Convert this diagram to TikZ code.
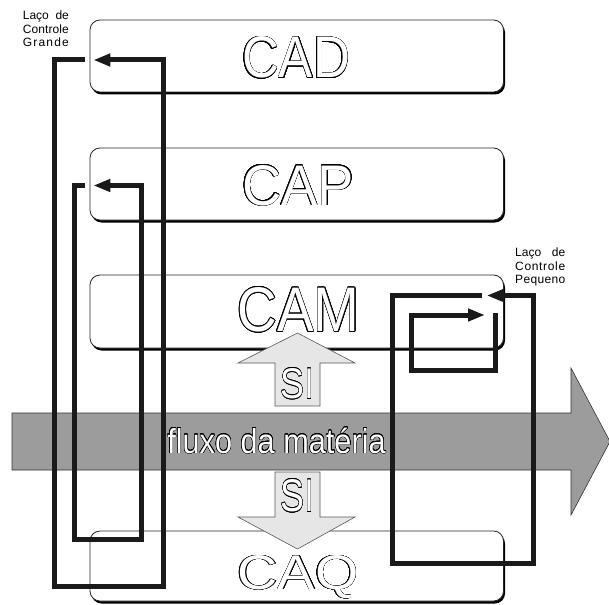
\documentclass[tikz,border=0pt]{standalone}
\usepackage{fontspec}
\setmainfont{Liberation Sans}
\usepackage{graphicx}
\usepackage[copies]{contour}
\contourlength{0.5pt}
\contournumber{24}
\usetikzlibrary{arrows.meta,shadows}
\definecolor{fluxgray}{RGB}{156,156,156}
\definecolor{sigray}{RGB}{230,230,230}
\definecolor{loopblack}{RGB}{26,26,26}
\newcommand{\outlinetext}[4]{\resizebox{#1}{#2}{\fontsize{#3}{#3}\selectfont\textcolor{white}{\contour{black}{#4}}}}
\begin{document}
\begin{tikzpicture}[x=1pt,y=-1pt,
  cbox/.style={draw=black!85, line width=0.8pt, fill=white, rounded corners=10pt,
    minimum width=413.5pt, inner sep=0pt,
    drop shadow={opacity=1, fill=black, shadow xshift=1.5pt, shadow yshift=-2.5pt}},
  txt/.style={inner sep=0pt, anchor=base},
  fluxarrow/.style={fill=fluxgray, draw=black!80, line width=0.6pt},
  siarrow/.style={fill=sigray, draw=black!65, line width=0.6pt},
  loopline/.style={draw=loopblack, line width=5pt, line join=miter},
  looptip/.style={-{Triangle[length=17pt,width=12pt]}},
  lbl/.style={inner sep=0pt, anchor=north west, align=left, font=\fontsize{12}{13.5}\selectfont}
]
\useasboundingbox (0,0) rectangle (609,604);
\fill[white] (0,0) rectangle (609,604);

% boxes
\node[cbox, minimum height=72pt] (cadbox) at (296.75,56) {};
\node[cbox, minimum height=72pt] (capbox) at (296.75,184) {};
\node[cbox, minimum height=73pt] (cambox) at (296.75,311.5) {};
\node[cbox, minimum height=70pt] (caqbox) at (296.75,566) {};

\node[txt] (cad) at (296,78) {\outlinetext{108pt}{41pt}{50}{CAD}};
\node[txt] (cap) at (298,205) {\outlinetext{112pt}{40pt}{50}{CAP}};
\node[txt] (cam) at (298.5,331.5) {\outlinetext{122pt}{44pt}{50}{CAM}};
\node[txt] (caq) at (298,589.5) {\outlinetext{121pt}{34pt}{50}{CAQ}};

% material flow arrow
\draw[fluxarrow] (12,413) -- (571,413) -- (571,368) -- (610,441.5) -- (571,515) -- (571,470) -- (12,470) -- cycle;
\node[txt] (flux) at (276.5,453) {\scalebox{0.89}[1]{\fontsize{34.5}{34.5}\selectfont\textcolor{white}{\contour{black}{fluxo da matéria}}}};

% SI arrows
\draw[siarrow] (275,406) -- (275,363) -- (238,363) -- (297.5,333) -- (355,363) -- (320,363) -- (320,406) -- cycle;
\node[txt] (siup) at (297.5,398.5) {\outlinetext{34pt}{30pt}{40}{SI}};
\draw[siarrow] (275,472) -- (320,472) -- (320,517) -- (355,517) -- (297.5,549) -- (238,517) -- (275,517) -- cycle;
\node[txt] (sidown) at (297.5,511.5) {\outlinetext{34pt}{32pt}{40}{SI}};

% control loops
\coordinate (gstart) at (85,60);
\coordinate (gtip) at (93.3,60);
\draw[loopline, looptip] (gstart) -- (54.5,60) -- (54.5,586.5) -- (163.5,586.5) -- (163.5,60) -- (gtip);

\coordinate (pstart) at (85,185.5);
\coordinate (ptip) at (93.3,185.5);
\draw[loopline, looptip] (pstart) -- (74.5,185.5) -- (74.5,539.5) -- (141.5,539.5) -- (141.5,185.5) -- (ptip);

\coordinate (qstart) at (481.7,295.5);
\coordinate (qtip) at (486.7,295.5);
\draw[loopline, looptip] (qstart) -- (392.5,295.5) -- (392.5,563.5) -- (533,563.5) -- (533,295.5) -- (qtip);

\coordinate (mstart) at (495.5,312.5);
\coordinate (mtip) at (485,315);
\draw[loopline, looptip] (mstart) -- (495.5,370.5) -- (411.5,370.5) -- (411.5,315) -- (mtip);

% labels
\node[lbl] (lgrande) at (22.7,11) {\makebox[46pt][s]{Laço\hfill de}\\
  \makebox[46pt][s]{C\hfil o\hfil n\hfil t\hfil r\hfil o\hfil l\hfil e}\\
  \makebox[46pt][s]{G\hfil r\hfil a\hfil n\hfil d\hfil e}};
\node[lbl] (lpequeno) at (515,248) {\makebox[50pt][s]{Laço\hfill de}\\
  \makebox[50pt][s]{C\hfil o\hfil n\hfil t\hfil r\hfil o\hfil l\hfil e}\\
  \makebox[50pt][s]{P\hfil e\hfil q\hfil u\hfil e\hfil n\hfil o}};
\end{tikzpicture}
\end{document}
